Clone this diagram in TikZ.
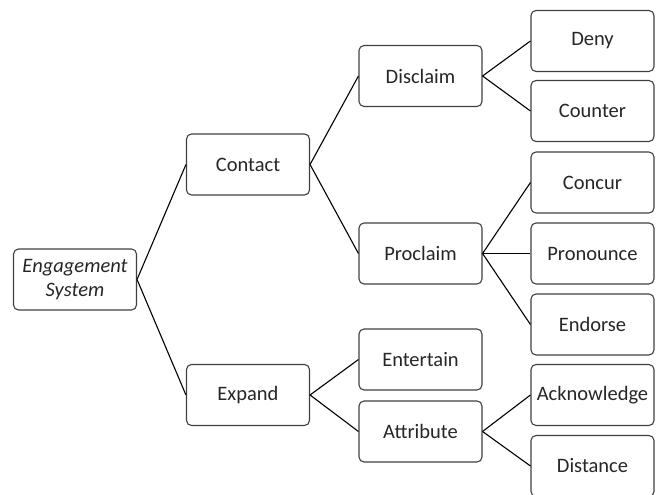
\documentclass[tikz,border=0pt]{standalone}
\usepackage{fontspec}
\setmainfont{Carlito}
\begin{document}
\begin{tikzpicture}[x=1pt,y=-1pt,
  box/.style={draw=black!75, line width=1.1pt, rounded corners=5pt, minimum width=123pt, minimum height=61pt, inner sep=0pt, align=center, font=\fontsize{20.5}{24.5}\selectfont, text=black!85},
  link/.style={draw=black, line width=1.1pt}]
\useasboundingbox (0,0) rectangle (662,495);
\node[box] (es) at (75,279.5) {\itshape Engagement\\\itshape System};
\node[box] (contact) at (248,164.5) {Contact};
\node[box] (expand) at (248,395) {Expand};
\node[box] (disclaim) at (420.5,76) {Disclaim};
\node[box] (proclaim) at (420.5,253.5) {Proclaim};
\node[box] (entertain) at (420.5,359.5) {Entertain};
\node[box] (attribute) at (420.5,431.5) {Attribute};
\node[box] (deny) at (592.5,41) {Deny};
\node[box] (counter) at (592.5,111) {Counter};
\node[box] (concur) at (592.5,182.5) {Concur};
\node[box] (pronounce) at (592.5,253.5) {Pronounce};
\node[box] (endorse) at (592.5,324.5) {Endorse};
\node[box] (acknowledge) at (592.5,395) {Acknowledge};
\node[box] (distance) at (592.5,466) {Distance};
\draw[link] (es.east) -- (contact.west);
\draw[link] (es.east) -- (expand.west);
\draw[link] (contact.east) -- (disclaim.west);
\draw[link] (contact.east) -- (proclaim.west);
\draw[link] (expand.east) -- (entertain.west);
\draw[link] (expand.east) -- (attribute.west);
\draw[link] (disclaim.east) -- (deny.west);
\draw[link] (disclaim.east) -- (counter.west);
\draw[link] (proclaim.east) -- (concur.west);
\draw[link] (proclaim.east) -- (pronounce.west);
\draw[link] (proclaim.east) -- (endorse.west);
\draw[link] (attribute.east) -- (acknowledge.west);
\draw[link] (attribute.east) -- (distance.west);
\end{tikzpicture}
\end{document}
